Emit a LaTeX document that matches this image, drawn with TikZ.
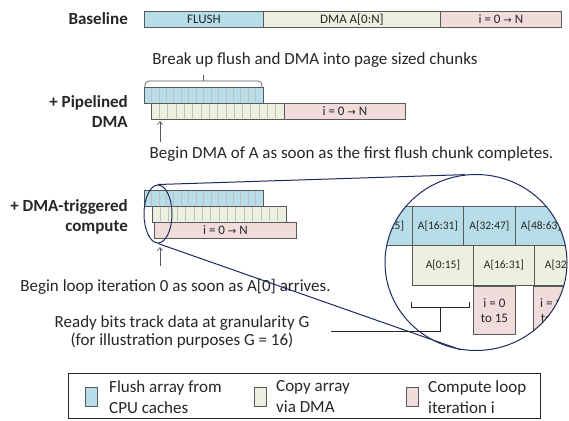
\documentclass[tikz,border=0pt]{standalone}
\usepackage{fontspec}
\setmainfont{Carlito}
\newfontfamily\symfont{DejaVu Sans}
\usetikzlibrary{shapes.geometric,arrows.meta}
\definecolor{flushc}{HTML}{B7DDE8}
\definecolor{dmac}{HTML}{EBF1DE}
\definecolor{compc}{HTML}{F2DCDB}
\definecolor{edgec}{HTML}{595959}
\definecolor{divc}{HTML}{BFBFBF}
\definecolor{navy}{HTML}{1F2A5C}
\definecolor{txt}{HTML}{262626}
\newcommand{\rarr}{{\symfont\fontsize{10}{12}\selectfont\char"2192}}
\begin{document}
\begin{tikzpicture}[x=1pt,y=-1pt,
  every node/.style={text=txt},
  bar/.style={draw=edgec, line width=0.8pt, inner sep=0pt, anchor=north west, font=\fontsize{13}{15}\selectfont},
  cell/.style={draw=edgec, line width=0.8pt, inner sep=0pt, anchor=north west, align=center, font=\fontsize{11.5}{14}\selectfont},
  lbl/.style={font=\bfseries\fontsize{17}{20}\selectfont, align=right, anchor=east, inner sep=0pt},
  note/.style={font=\fontsize{17}{18}\selectfont, align=center, inner sep=0pt},
  leg/.style={font=\fontsize{17}{21}\selectfont, align=left, anchor=west, inner sep=0pt},
  legsq/.style={draw=edgec, line width=0.8pt, minimum width=12pt, minimum height=19pt, inner sep=0pt},
  divl/.style={divc, line width=0.6pt},
  arr/.style={edgec, line width=0.7pt, -{Straight Barb[length=3pt,width=5pt]}},
  zoomline/.style={navy, line width=1pt}
]
\useasboundingbox (0,0) rectangle (569,420);

% ---------- Baseline ----------
\node[lbl] (lbase) at (128,19) {Baseline};
\node[bar, fill=flushc, minimum width=119pt, minimum height=16pt] (bflush) at (144,11) {FLUSH};
\node[bar, fill=dmac, minimum width=177pt, minimum height=16pt] (bdma) at (263,11) {DMA A[0:N]};
\node[bar, fill=compc, minimum width=121pt, minimum height=16pt] (bcomp) at (440,11) {i = 0 \rarr\ N};

% ---------- Pipelined DMA ----------
\node[note] (tbreak) at (315,60) {Break up flush and DMA into page sized chunks};
\draw[edgec, line width=0.7pt, rounded corners=4pt] (145,87) -- (145,81) -- (262,81) -- (262,87);
\draw[edgec, line width=0.7pt] (203.5,81) -- (203.5,75);

\node[lbl] (lpipe) at (128,112) {+ Pipelined\\DMA};
\node[bar, fill=flushc, minimum width=119pt, minimum height=16pt] (pflush) at (144,87) {};
\node[bar, fill=dmac, minimum width=133pt, minimum height=16pt] (pdma) at (151,103) {};
\node[bar, fill=compc, minimum width=121pt, minimum height=16pt] (pcomp) at (284,103) {i = 0 \rarr\ N};
\foreach \k in {1,...,15} {
  \pgfmathsetmacro\xa{144+\k*119/16}
  \draw[divl] (\xa,87.6) -- (\xa,102.4);
  \pgfmathsetmacro\xb{151+\k*133/16}
  \draw[divl] (\xb,103.6) -- (\xb,118.4);
}
\draw[edgec, line width=0.8pt] (pflush.north west) rectangle (pflush.south east);
\draw[edgec, line width=0.8pt] (pdma.north west) rectangle (pdma.south east);

\coordinate (dmaArrowTail) at (160,142);
\coordinate (dmaArrowHead) at (160,121);
\draw[arr] (dmaArrowTail) -- (dmaArrowHead);
\node[note] (tbegindma) at (351.5,154) {Begin DMA of A as soon as the first flush chunk completes.};

% ---------- DMA-triggered compute ----------
\node[lbl] (ltrig) at (128,217) {+ DMA-triggered\\compute};
\node[bar, fill=compc, minimum width=142pt, minimum height=16pt] (tcomp) at (154,222) {i = 0 \rarr\ N};
\node[bar, fill=dmac, minimum width=134pt, minimum height=16pt] (tdma) at (152,206) {};
\node[bar, fill=flushc, minimum width=119pt, minimum height=16pt] (tflush) at (144,190) {};
\foreach \k in {1,...,15} {
  \pgfmathsetmacro\xa{144+\k*119/16}
  \draw[divl] (\xa,190.6) -- (\xa,205.4);
  \pgfmathsetmacro\xb{152+\k*134/16}
  \draw[divl] (\xb,206.6) -- (\xb,221.4);
}
\draw[edgec, line width=0.8pt] (tflush.north west) rectangle (tflush.south east);
\draw[edgec, line width=0.8pt] (tdma.north west) rectangle (tdma.south east);

\node[ellipse, draw=navy, line width=1pt, minimum width=28pt, minimum height=58pt, inner sep=0pt] (zoomsrc) at (158,214) {};

\coordinate (loopArrowTail) at (160,266);
\coordinate (loopArrowHead) at (160,247);
\draw[arr] (loopArrowTail) -- (loopArrowHead);
\node[note] (tloop) at (175.5,287) {Begin loop iteration 0 as soon as A[0] arrives.};

% ---------- zoomed view ----------
\begin{scope}
  \path[clip] (476,262.5) ellipse (91 and 88);
  \node[cell, fill=flushc, minimum width=51pt, minimum height=39pt] (z0) at (361,206) {A[0:15]};
  \node[cell, fill=flushc, minimum width=51pt, minimum height=39pt] (z1) at (412,206) {A[16:31]};
  \node[cell, fill=flushc, minimum width=52pt, minimum height=39pt] (z2) at (463,206) {A[32:47]};
  \node[cell, fill=flushc, minimum width=51pt, minimum height=39pt] (z3) at (515,206) {A[48:63]};
  \node[cell, fill=flushc, minimum width=51pt, minimum height=39pt] (z4) at (566,206) {A[64:79]};
  \node[cell, fill=dmac, minimum width=61pt, minimum height=40pt] (y0) at (412,245) {A[0:15]};
  \node[cell, fill=dmac, minimum width=61pt, minimum height=40pt] (y1) at (473,245) {A[16:31]};
  \node[cell, fill=dmac, minimum width=61pt, minimum height=40pt] (y2) at (534,245) {A[32:47]};
  \node[cell, fill=compc, minimum width=42pt, minimum height=48pt, font=\fontsize{13}{15}\selectfont] (x0) at (473,286) {i = 0\\to 15};
  \node[cell, fill=compc, minimum width=42pt, minimum height=48pt, font=\fontsize{13}{15}\selectfont] (x1) at (533,286) {i = 16\\to 31};
\end{scope}
\node[ellipse, draw=navy, line width=1pt, minimum width=182pt, minimum height=176pt, inner sep=0pt] (zoomcirc) at (476,262.5) {};
\draw[zoomline] (zoomsrc.north) -- (zoomcirc.97);
\draw[zoomline] (zoomsrc.south) -- (zoomcirc.-100);

% ---------- ready bits ----------
\draw[txt, line width=0.8pt] (411,302) -- (411,307) -- (469,307) -- (469,302);
\coordinate (brkMid) at (440,307);
\coordinate (readyEnd) at (331,331);
\draw[txt, line width=0.8pt] (readyEnd) -| (brkMid);
\node[note] (tready) at (182,331.5) {Ready bits track data at granularity G\\(for illustration purposes G = 16)};

% ---------- legend ----------
\node[draw=txt, line width=0.8pt, minimum width=472pt, minimum height=45pt, inner sep=0pt, anchor=north west] (legbox) at (68,373) {};
\node[legsq, fill=flushc] (lsq1) at (91,397) {};
\node[leg] (lt1) at (109,397) {Flush array from\\CPU caches};
\node[legsq, fill=dmac] (lsq2) at (260,397) {};
\node[leg] (lt2) at (276,397) {Copy array\\via DMA};
\node[legsq, fill=compc] (lsq3) at (412,397) {};
\node[leg] (lt3) at (428,397) {Compute loop\\iteration i};
\end{tikzpicture}
\end{document}
